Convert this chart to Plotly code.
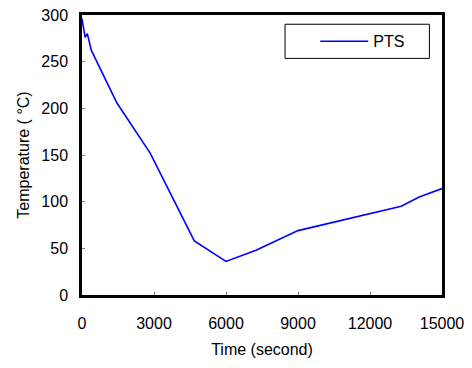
import plotly.graph_objects as go

time_s = [0, 130, 220, 390, 1450, 2840, 4680, 6000, 7250, 9000, 13300, 14050, 15000]
temp_c = [296, 276, 280, 262, 206, 152, 58, 36, 48, 69, 95, 105, 114]

x_ticks = [0, 3000, 6000, 9000, 12000, 15000]
x_labels = ["0", "3000", "6000", "9000", "12000", "15000"]
y_ticks = [0, 50, 100, 150, 200, 250, 300]

FONT = "Liberation Sans, Arial, sans-serif"

fig = go.Figure()
fig.add_trace(go.Scatter(x=time_s, y=temp_c, mode="lines", name="PTS",
                         line=dict(color="#0000ff", width=1.6)))

axis_common = dict(showgrid=False, zeroline=False, showline=True, linecolor="black",
                   linewidth=2.5, mirror=True, ticks="inside", ticklen=3,
                   tickcolor="#808080", tickwidth=1, automargin=False,
                   tickfont=dict(family=FONT, size=16, color="black"))

fig.update_xaxes(range=[0, 15000], tickvals=x_ticks, ticktext=x_labels, ticklabelstandoff=12,
                 title=dict(text="Time (second)", font=dict(family=FONT, size=16, color="black"),
                            standoff=13),
                 **axis_common)
fig.update_yaxes(range=[0, 300], tickvals=y_ticks, ticklabelstandoff=8,
                 title=dict(text="Temperature ( °C)", font=dict(family=FONT, size=16, color="black"),
                            standoff=8),
                 **axis_common)

fig.add_shape(type="rect", xref="paper", yref="paper", x0=0.564, x1=0.965, y0=0.845, y1=0.967,
              line=dict(color="black", width=1), fillcolor="white", layer="below")

fig.update_layout(
    width=472, height=368,
    margin=dict(l=82, r=30, t=15, b=73),
    paper_bgcolor="white", plot_bgcolor="white",
    font=dict(family=FONT, size=16, color="black"),
    showlegend=True,
    legend=dict(x=0.648, y=0.906, xanchor="left", yanchor="middle",
                bgcolor="rgba(0,0,0,0)", borderwidth=0, itemwidth=48,
                font=dict(family=FONT, size=16, color="black")),
)

fig.write_html("out.html")
